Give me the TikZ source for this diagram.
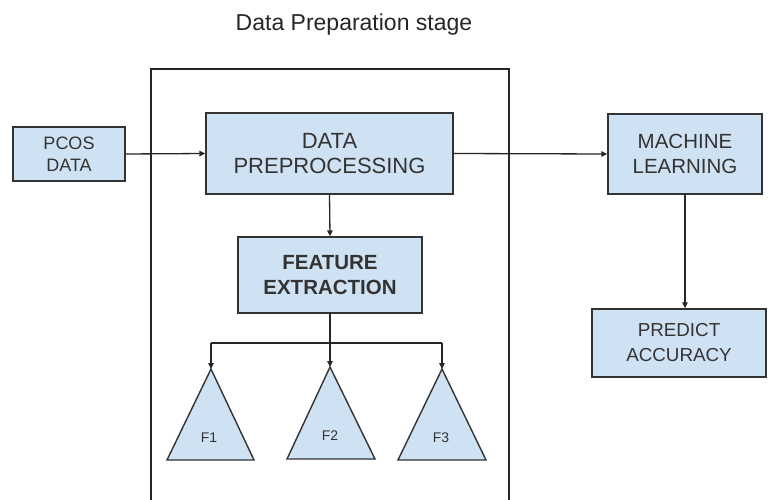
\documentclass[tikz,border=0pt]{standalone}
\usepackage{fontspec}
\setmainfont{Liberation Sans}
\usetikzlibrary{arrows.meta}
\definecolor{boxfill}{HTML}{CFE2F3}
\definecolor{inkgray}{HTML}{333333}
\begin{document}
\begin{tikzpicture}[x=1pt,y=-1pt,
  box/.style={draw=inkgray,fill=boxfill,line width=1.4pt,align=center,
    text=inkgray,inner sep=0pt},
  link/.style={draw=black!85,line width=1.3pt,-{Triangle[length=6pt,width=5.5pt]}},
  plain/.style={draw=black!85,line width=1.3pt},
  tri/.style={draw=inkgray,fill=boxfill,line width=1.4pt,line join=miter},
  flabel/.style={text=inkgray,font=\fontsize{14}{16}\selectfont}]
\useasboundingbox (0,0) rectangle (768,500);
\fill[white] (0,0) rectangle (768,500);
% title
\node[text=black!85,font=\fontsize{23}{27}\selectfont] (title) at (354,25) {Data Preparation stage};
% data preparation frame
\draw[plain] (151,502) -- (151,69) -- (509,69) -- (509,502);
% boxes
\node[box,minimum width=112pt,minimum height=54pt,
  font=\fontsize{18}{22}\selectfont] (pcos) at (69,154) {PCOS\\DATA};
\node[box,minimum width=247pt,minimum height=81pt,
  font=\fontsize{22}{25}\selectfont] (dp) at (329.5,153.5) {DATA\\PREPROCESSING};
\node[box,minimum width=184pt,minimum height=76pt,
  font=\bfseries\fontsize{20.5}{25}\selectfont] (fe) at (330,275) {FEATURE\\EXTRACTION};
\node[box,minimum width=154pt,minimum height=80pt,
  font=\fontsize{20.5}{25}\selectfont] (ml) at (685,154) {MACHINE\\LEARNING};
\node[box,minimum width=174pt,minimum height=68pt,
  font=\fontsize{18.8}{25}\selectfont] (pa) at (679,343) {PREDICT\\ACCURACY};
% triangles
\coordinate (t1) at (211,369);
\coordinate (t2) at (330,367);
\coordinate (t3) at (442,369);
\draw[tri] (t1) -- (254,460) -- (167,460) -- cycle;
\draw[tri] (t2) -- (375,459) -- (287,459) -- cycle;
\draw[tri] (t3) -- (486,460) -- (398,460) -- cycle;
\node[flabel] (f1) at (209,438) {F1};
\node[flabel] (f2) at (330,436) {F2};
\node[flabel] (f3) at (441,438) {F3};
% connectors
\draw[link] (pcos.east) -- (dp.west);
\draw[link] (dp.east) -- (ml.west);
\draw[link] (ml.south) -- (ml.south |- pa.north);
\draw[link] (dp.south) -- (fe.north);
\coordinate (split) at (330,343);
\coordinate (sl) at (211,343);
\coordinate (sr) at (442,343);
\draw[plain] (fe.south) -- (split);
\draw[plain] (sl) -- (sr);
\draw[link] (sl) -- (t1);
\draw[link] (split) -- (t2);
\draw[link] (sr) -- (t3);
\end{tikzpicture}
\end{document}
